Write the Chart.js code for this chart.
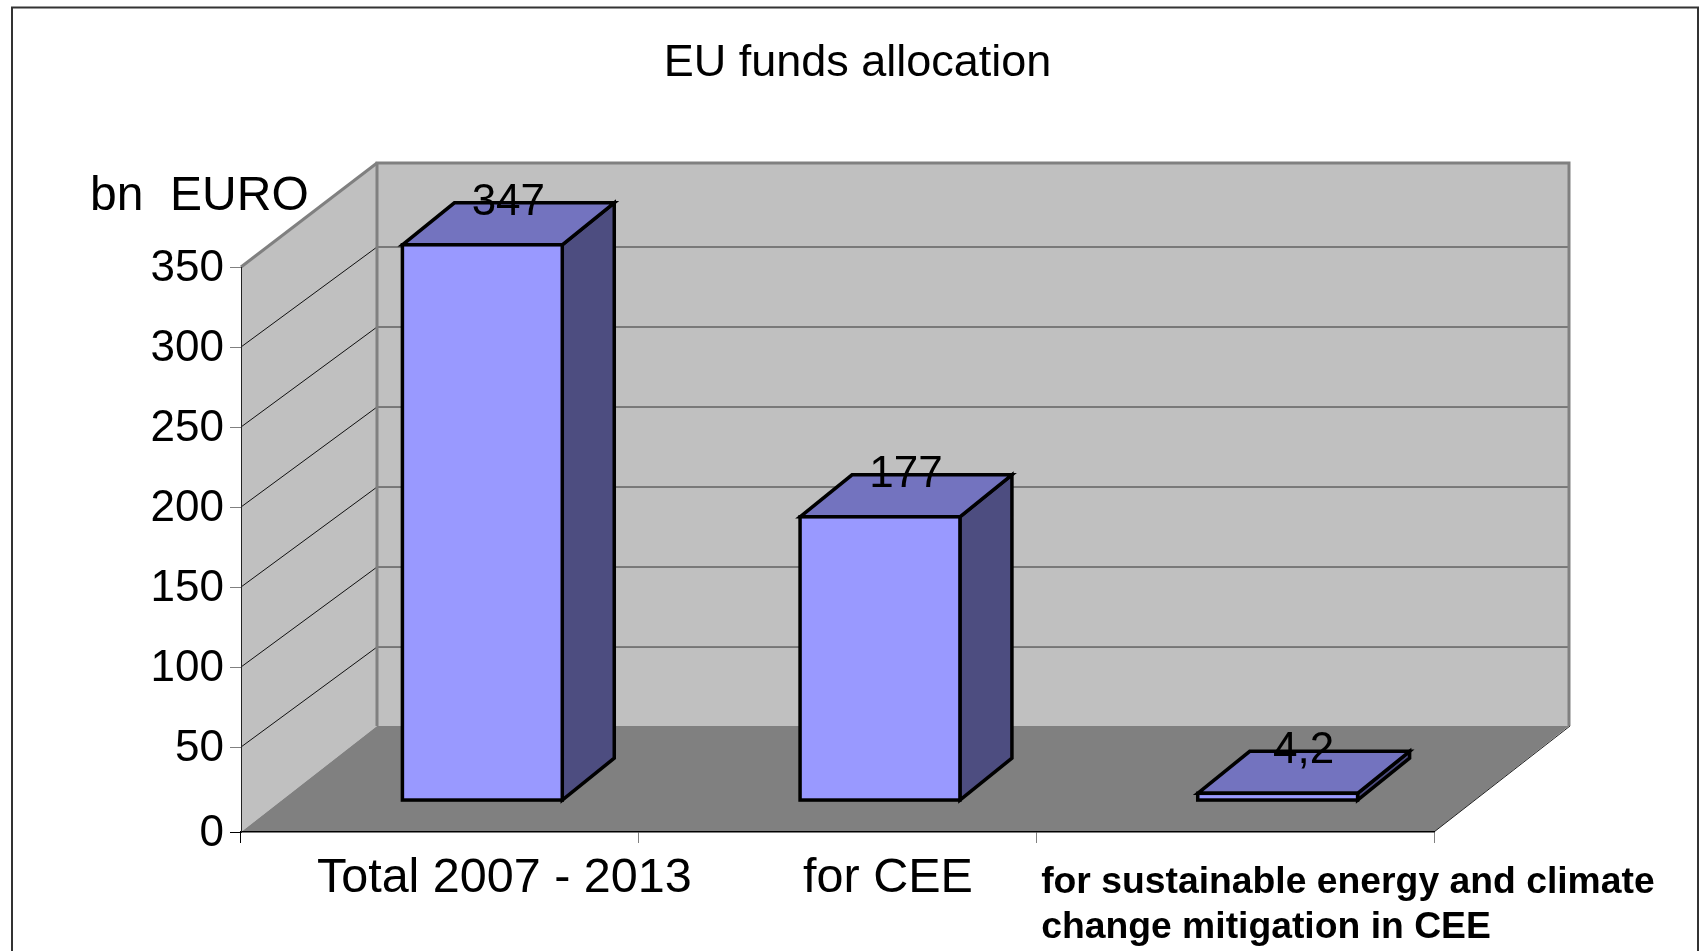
<!DOCTYPE html>
<html>
<head>
<meta charset="utf-8">
<title>EU funds allocation</title>
<script src="https://cdn.jsdelivr.net/npm/chart.js@4"></script>
<style>
  html, body { margin: 0; padding: 0; background: #fff; overflow: hidden; }
  canvas { display: block; }
</style>
</head>
<body>
<canvas id="fundsChart" width="1703" height="951"></canvas>
<script>
const chartTitle = 'EU funds allocation'
const unitLabel = 'bn  EURO'
const categories = ['Total 2007 - 2013', 'for CEE', 'for sustainable energy and climate|change mitigation in CEE']
const values = [347, 177, 4.2]
const valueLabels = ['347', '177', '4,2']
const yTickValues = [0, 50, 100, 150, 200, 250, 300, 350]

const FONT = '"Liberation Sans", Arial, sans-serif'

// the source chart draws its 0 tick a little below the even 50 step, so the floor sits under 0
const FLOOR_VALUE = -3.1

// fake 3D offsets, in pixels
const WALL_DX = 136
const WALL_DY = 106
const GRID_DY = 100
const BAR_SHIFT_X = 42.5
const BAR_SHIFT_Y = 27
const BAR_DX = 52
const BAR_DY = 42
const BAR_LINE = 3.5

function polygon(ctx, points, fill, stroke, lineWidth) {
  ctx.beginPath()
  points.forEach((p, i) => (i ? ctx.lineTo(p[0], p[1]) : ctx.moveTo(p[0], p[1])))
  ctx.closePath()
  ctx.fillStyle = fill
  ctx.fill()
  if (stroke) {
    ctx.strokeStyle = stroke
    ctx.lineWidth = lineWidth
    ctx.lineJoin = 'miter'
    ctx.stroke()
  }
}

function line(ctx, x0, y0, x1, y1, color, width) {
  ctx.beginPath()
  ctx.moveTo(x0, y0)
  ctx.lineTo(x1, y1)
  ctx.strokeStyle = color
  ctx.lineWidth = width
  ctx.stroke()
}

function text(ctx, str, x, y, font, align) {
  ctx.font = font
  ctx.fillStyle = '#000'
  ctx.textAlign = align || 'left'
  ctx.textBaseline = 'alphabetic'
  ctx.fillText(str, x, y)
}

// walls, floor and frame behind the axes
const roomPlugin = {
  id: 'room',
  beforeDraw(chart) {
    const ctx = chart.ctx
    const { left, right, top, bottom } = chart.chartArea
    const y = chart.scales.y
    ctx.save()

    // outer frame, the bottom edge is cut off in the source
    ctx.beginPath()
    ctx.moveTo(12, 951)
    ctx.lineTo(12, 7.5)
    ctx.lineTo(1698, 7.5)
    ctx.lineTo(1698, 951)
    ctx.strokeStyle = '#333333'
    ctx.lineWidth = 2
    ctx.stroke()

    const backLeft = left + WALL_DX
    const backRight = right + WALL_DX - 1
    const backTop = top - WALL_DY + 2
    const backBottom = bottom - WALL_DY

    polygon(ctx, [[backLeft, backTop], [backRight, backTop], [backRight, backBottom], [backLeft, backBottom]], '#C0C0C0')
    polygon(ctx, [[left, top], [backLeft, backTop], [backLeft, backBottom], [left, bottom]], '#C0C0C0')
    polygon(ctx, [[left, bottom], [backLeft, backBottom], [backRight, backBottom], [right, bottom]], '#808080')

    // grid on both walls, skipping the wall top and the floor
    yTickValues.slice(1, -1).forEach(v => {
      const py = y.getPixelForValue(v)
      line(ctx, left, py, backLeft, py - GRID_DY, '#111111', 1)
      line(ctx, backLeft, py - GRID_DY, backRight, py - GRID_DY, '#333333', 1)
    })

    // thick wall edges
    line(ctx, left, top, backLeft, backTop, '#808080', 3)
    ctx.beginPath()
    ctx.moveTo(backLeft, backBottom)
    ctx.lineTo(backLeft, backTop)
    ctx.lineTo(backRight, backTop)
    ctx.lineTo(backRight, backBottom)
    ctx.strokeStyle = '#808080'
    ctx.lineWidth = 3
    ctx.stroke()

    line(ctx, right, bottom, backRight + 1, backBottom, '#222222', 1)
    ctx.restore()
  }
}

// top and side faces behind each bar, then the library's bars are shifted onto the floor
const barDepthPlugin = {
  id: 'barDepth',
  beforeDatasetsDraw(chart) {
    const ctx = chart.ctx
    ctx.save()
    chart.getDatasetMeta(0).data.forEach(bar => {
      const x0 = bar.x - bar.width / 2 + BAR_SHIFT_X
      const x1 = bar.x + bar.width / 2 + BAR_SHIFT_X
      const yTop = bar.y - BAR_SHIFT_Y
      const yBase = bar.base - BAR_SHIFT_Y
      polygon(ctx, [[x1, yTop], [x1 + BAR_DX, yTop - BAR_DY], [x1 + BAR_DX, yBase - BAR_DY], [x1, yBase]], '#4D4D80', '#000', BAR_LINE)
      polygon(ctx, [[x0, yTop], [x0 + BAR_DX, yTop - BAR_DY], [x1 + BAR_DX, yTop - BAR_DY], [x1, yTop]], '#7373BF', '#000', BAR_LINE)
    })
    ctx.restore()
    ctx.save()
    ctx.translate(BAR_SHIFT_X, -BAR_SHIFT_Y)
  },
  afterDatasetsDraw(chart) {
    const ctx = chart.ctx
    // outline centred on the bar edge, the library would put it inside
    chart.getDatasetMeta(0).data.forEach(bar => {
      ctx.strokeStyle = '#000'
      ctx.lineWidth = BAR_LINE
      ctx.lineJoin = 'miter'
      ctx.strokeRect(bar.x - bar.width / 2, bar.y, bar.width, bar.base - bar.y)
    })
    ctx.restore()
  }
}

// title, unit, category names and value labels
const labelsPlugin = {
  id: 'labels',
  afterDraw(chart) {
    const ctx = chart.ctx
    const x = chart.scales.x
    ctx.save()
    text(ctx, chartTitle, 857.5, 76, '45px ' + FONT, 'center')
    text(ctx, unitLabel, 90, 210, '48px ' + FONT)

    const plainFont = '48.5px ' + FONT
    text(ctx, categories[0], x.getPixelForValue(0) + 64.5, 892, plainFont, 'center')
    text(ctx, categories[1], x.getPixelForValue(1) + 50.5, 892, plainFont, 'center')
    categories[2].split('|').forEach((row, i) => {
      text(ctx, row, x.getPixelForValue(2) - 194, 893 + i * 45, 'bold 37.3px ' + FONT)
    })

    chart.getDatasetMeta(0).data.forEach((bar, i) => {
      text(ctx, valueLabels[i], bar.x + BAR_SHIFT_X + 26, bar.y - BAR_SHIFT_Y - 30, '44px ' + FONT, 'center')
    })
    ctx.restore()
  }
}

new Chart(document.getElementById('fundsChart'), {
  type: 'bar',
  data: {
    labels: categories,
    datasets: [{
      data: values,
      backgroundColor: '#9999FF',
      borderWidth: 0,
      categoryPercentage: 1,
      barPercentage: 0.402
    }]
  },
  plugins: [roomPlugin, barDepthPlugin, labelsPlugin],
  options: {
    responsive: false,
    devicePixelRatio: 1,
    animation: false,
    layout: { padding: { left: 0, top: 267, right: 269, bottom: 119 } },
    plugins: {
      legend: { display: false },
      title: { display: false },
      tooltip: { enabled: false }
    },
    scales: {
      x: {
        grid: {
          drawOnChartArea: false,
          tickLength: 11,
          color: ctx => (ctx.index === 0 ? '#000000' : '#808080')
        },
        border: { color: '#000000', width: 1.5 },
        ticks: { display: false },
        afterFit(scale) { scale.height = 0 }
      },
      y: {
        min: FLOOR_VALUE,
        max: 350,
        grid: {
          drawOnChartArea: false,
          tickLength: 11,
          color: ctx => (ctx.index === 0 ? '#000000' : '#808080')
        },
        border: { color: '#222222', width: 1 },
        ticks: {
          autoSkip: false,
          padding: 6,
          labelOffset: 2,
          color: '#000000',
          font: { family: FONT, size: 44 },
          callback: value => (value <= 0 ? '0' : String(value))
        },
        afterBuildTicks(scale) {
          scale.ticks = yTickValues.map(v => ({ value: v === 0 ? FLOOR_VALUE : v }))
        },
        afterFit(scale) { scale.width = 241 }
      }
    }
  }
})
</script>
</body>
</html>
